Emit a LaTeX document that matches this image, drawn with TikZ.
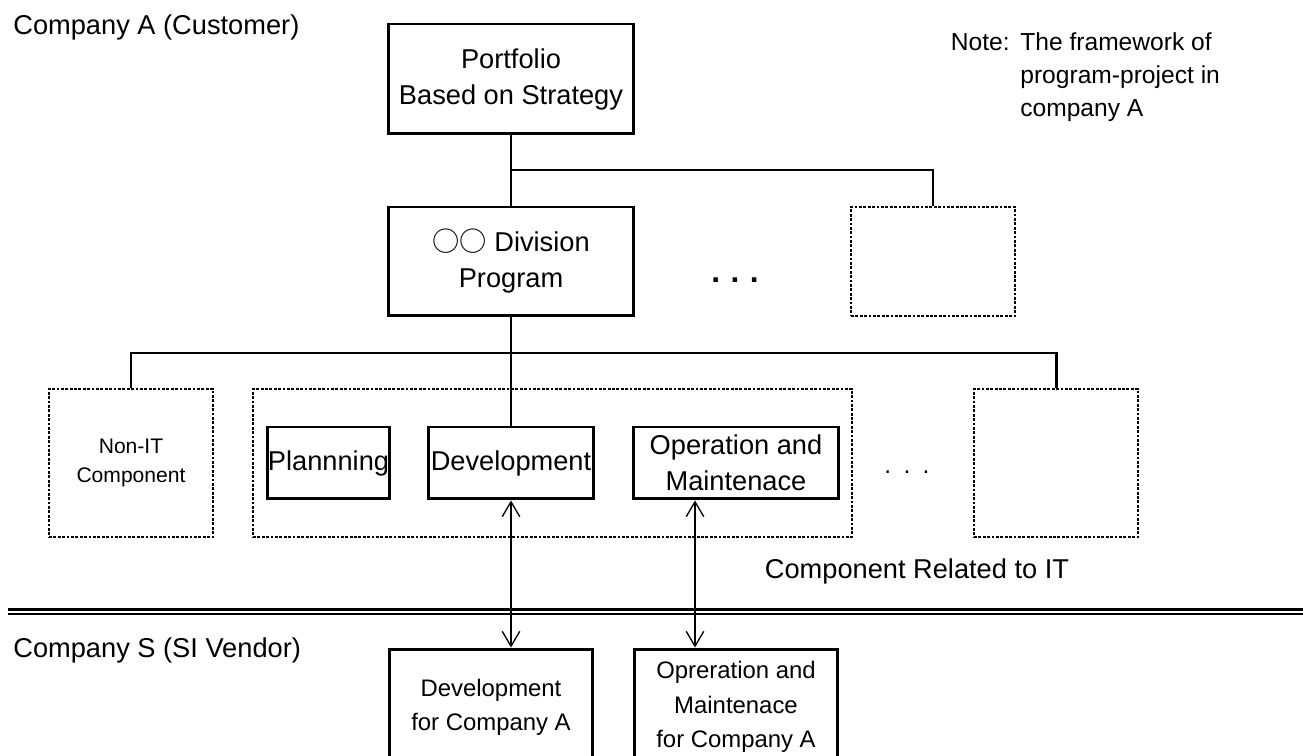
\documentclass[tikz,border=0pt]{standalone}
\usepackage{fontspec}
\setmainfont{Liberation Sans}
\newfontfamily\cjkfont{Noto Sans CJK JP}
\usetikzlibrary{arrows.meta}
\tikzset{
  solidbox/.style={draw, line width=1.7pt, inner sep=0pt, align=center},
  dashbox/.style={draw, line width=0.9pt, dash pattern=on 1.6pt off 0.9pt, inner sep=0pt, align=center},
  conn/.style={line width=1.7pt},
  biarrow/.style={line width=0.75pt, {Straight Barb[length=8.5pt,width=10pt]}-{Straight Barb[length=8.5pt,width=10pt]}},
  big/.style={font=\fontsize{15.5}{20.5}\selectfont},
  mid/.style={font=\fontsize{13.6}{19.5}\selectfont},
  small/.style={font=\fontsize{12}{16.4}\selectfont},
}
\begin{document}
\begin{tikzpicture}[x=0.02cm, y=-0.02cm]
\useasboundingbox (0,0) rectangle (1303,756);
\clip (0,0) rectangle (1303,756);

% top level
\node[solidbox, big, minimum width=4.92cm, minimum height=2.2cm] (port) at (511,79) {Portfolio\\Based on Strategy};
\node[solidbox, big, minimum width=4.92cm, minimum height=2.18cm] (div) at (511,261.5) {{\cjkfont ○○} Division\\Program};
\node[dashbox, minimum width=3.28cm, minimum height=2.18cm] (rtop) at (933,261.5) {};
\node[font=\bfseries\fontsize{18}{18}\selectfont] (dots1) at (735,280) {.\,\,.\,\,.};

% second level
\node[dashbox, small, minimum width=3.28cm, minimum height=2.96cm] (nonit) at (131,463) {Non-IT\\Component};
\node[dashbox, minimum width=11.98cm, minimum height=2.96cm] (itgrp) at (552.5,463) {};
\node[dashbox, minimum width=3.28cm, minimum height=2.96cm] (rbox) at (1056,463) {};
\node[solidbox, big, minimum width=2.46cm, minimum height=1.44cm] (plan) at (328.5,463) {Plannning};
\node[solidbox, big, minimum width=3.3cm, minimum height=1.44cm] (dev) at (511,463) {Development};
\node[solidbox, big, minimum width=4.12cm, minimum height=1.44cm] (opm) at (736,463) {Operation and\\Maintenace};
\node[font=\fontsize{14}{14}\selectfont] (dots2) at (907,472) {.\,\,\,.\,\,\,.};
\node[big] (itlabel) at (917,571) {Component Related to IT};

% labels
\node[big, anchor=west, inner sep=0pt] (ca) at (13,27) {Company A (Customer)};
\node[big, anchor=west, inner sep=0pt] (cs) at (13,650) {Company S (SI Vendor)};
\node[font=\fontsize{14}{18.7}\selectfont, anchor=base east, inner sep=0pt] (notehd) at (1010,51) {Note:};
\node[font=\fontsize{14}{18.7}\selectfont, anchor=west, align=left, inner sep=0pt] (notetx) at (1020,77) {The framework of\\program-project in\\company A};

% separator
\coordinate (sepL1) at (8,609.5);
\coordinate (sepR1) at (1303,609.5);
\coordinate (sepL2) at (8,613.8);
\coordinate (sepR2) at (1303,613.8);
\draw[line width=1.35pt] (sepL1) -- (sepR1);
\draw[line width=1.35pt] (sepL2) -- (sepR2);

% vendor boxes
\node[solidbox, mid, minimum width=4.08cm, minimum height=2.32cm] (s1) at (491,707) {Development\\for Company A};
\node[solidbox, mid, minimum width=4.08cm, minimum height=2.32cm] (s2) at (736,707) {Opreration and\\Maintenace\\for Company A};

% connectors
\coordinate (b1) at (511,170);
\coordinate (bus) at (0,353);
\draw[conn] (port.south) -- (div.north);
\draw[conn] (port.south |- b1) -| (rtop.north);
\draw[conn] (div.south) -- (dev.north);
\draw[conn] (nonit.north) |- (bus -| rbox.north) -- (rbox.north);

\coordinate (ax1) at (511,0);
\coordinate (ax2) at (695,0);
\draw[biarrow] (dev.south -| ax1) -- (s1.north -| ax1);
\draw[biarrow] (opm.south -| ax2) -- (s2.north -| ax2);
\end{tikzpicture}
\end{document}
